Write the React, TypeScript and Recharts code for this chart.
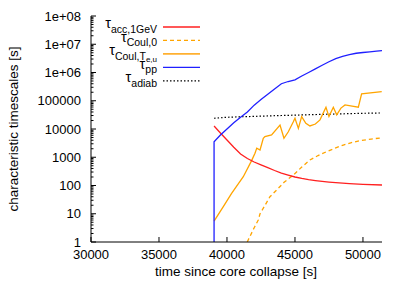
import { LineChart, Line, XAxis, YAxis, Legend } from 'recharts';

const W = 407;
const H = 285;
const FONT = '"Liberation Sans", Arial, Helvetica, sans-serif';

const X_TICKS = [30000, 35000, 40000, 45000, 50000];
const Y_MAJOR = [1, 10, 100, 1000, 10000, 100000, 1e6, 1e7, 1e8];
const Y_LABELS = ['1', '10', '100', '1000', '10000', '100000', '1e+06', '1e+07', '1e+08'];
const Y_MINOR_STEPS = [2, 3, 4, 5, 6, 7, 8, 9];

// tau_acc,1GeV
const tauAcc = [
  { t: 39050, v: 12800 }, { t: 39500, v: 7400 }, { t: 40000, v: 4100 }, { t: 40500, v: 2250 },
  { t: 41000, v: 1300 }, { t: 41500, v: 900 }, { t: 42000, v: 680 }, { t: 42500, v: 540 },
  { t: 43000, v: 430 }, { t: 43500, v: 340 }, { t: 44000, v: 275 }, { t: 44500, v: 235 },
  { t: 45000, v: 200 }, { t: 45500, v: 178 }, { t: 46000, v: 162 }, { t: 46500, v: 150 },
  { t: 47000, v: 140 }, { t: 47500, v: 132 }, { t: 48000, v: 126 }, { t: 49000, v: 117 },
  { t: 50000, v: 110 }, { t: 51400, v: 104 },
];

// tau_Coul,0
const tauCoul0 = [
  { t: 41490, v: 1 }, { t: 42000, v: 3.2 }, { t: 42300, v: 6 }, { t: 42430, v: 10 },
  { t: 42800, v: 20 }, { t: 43160, v: 40 }, { t: 43650, v: 69 }, { t: 44200, v: 130 },
  { t: 44880, v: 235 }, { t: 45500, v: 450 }, { t: 46100, v: 800 }, { t: 46700, v: 1150 },
  { t: 47330, v: 1580 }, { t: 48000, v: 2150 }, { t: 48550, v: 2700 }, { t: 49100, v: 3250 },
  { t: 49780, v: 3860 }, { t: 50600, v: 4400 }, { t: 51400, v: 4900 },
];

// tau_Coul,Te,u
const tauCoulTe = [
  { t: 39050, v: 5.5 }, { t: 39730, v: 18 }, { t: 40340, v: 53 }, { t: 41200, v: 205 },
  { t: 41810, v: 760 }, { t: 42060, v: 1380 }, { t: 42190, v: 2100 }, { t: 42430, v: 1800 },
  { t: 42670, v: 4700 }, { t: 42790, v: 5400 }, { t: 43280, v: 6200 }, { t: 43900, v: 13800 },
  { t: 44190, v: 4700 }, { t: 44510, v: 8000 }, { t: 44880, v: 18000 }, { t: 45000, v: 24000 },
  { t: 45250, v: 10500 }, { t: 45490, v: 27500 }, { t: 45800, v: 16000 }, { t: 46100, v: 12800 },
  { t: 46500, v: 15000 }, { t: 46840, v: 21000 }, { t: 47280, v: 59000 }, { t: 47500, v: 27500 },
  { t: 47820, v: 59000 }, { t: 48070, v: 31600 }, { t: 48380, v: 55000 }, { t: 48680, v: 71000 },
  { t: 49200, v: 65000 }, { t: 49660, v: 59000 }, { t: 49900, v: 174000 }, { t: 51380, v: 210000 },
];

// tau_pp
const tauPP = [
  { t: 39050, v: 1 }, { t: 39050, v: 3550 }, { t: 39500, v: 6000 }, { t: 40000, v: 10000 },
  { t: 40500, v: 16500 }, { t: 41000, v: 26000 }, { t: 41500, v: 40000 }, { t: 42000, v: 70000 },
  { t: 42500, v: 110000 }, { t: 43000, v: 170000 }, { t: 43500, v: 260000 }, { t: 44000, v: 400000 },
  { t: 44500, v: 480000 }, { t: 45000, v: 550000 }, { t: 45500, v: 750000 }, { t: 46000, v: 1.0e6 },
  { t: 46500, v: 1.35e6 }, { t: 47000, v: 1.8e6 }, { t: 47500, v: 2.4e6 }, { t: 48000, v: 3.1e6 },
  { t: 48500, v: 3.7e6 }, { t: 49000, v: 4.3e6 }, { t: 49500, v: 4.8e6 }, { t: 50000, v: 5.1e6 },
  { t: 50500, v: 5.4e6 }, { t: 51000, v: 5.7e6 }, { t: 51400, v: 5.9e6 },
];

// tau_adiab
const tauAdiab = [
  { t: 39050, v: 24000 }, { t: 40000, v: 26000 }, { t: 42000, v: 28000 }, { t: 44000, v: 30000 },
  { t: 46000, v: 32000 }, { t: 48000, v: 34000 }, { t: 50000, v: 36000 }, { t: 51400, v: 37000 },
];

const yTicks = Y_MAJOR.flatMap((d) => (d < 1e8 ? [d, ...Y_MINOR_STEPS.map((m) => d * m)] : [d]));

function BottomTick(props: any) {
  const { x, y, payload } = props;
  return (
    <g>
      <line x1={x} y1={y} x2={x} y2={y - 5} stroke="#000" />
      <text x={x} y={y + 16.5} textAnchor="middle" fontSize={13} fontFamily={FONT} fill="#000">
        {payload.value}
      </text>
    </g>
  );
}

function TopTick(props: any) {
  const { x, y } = props;
  return <line x1={x} y1={y} x2={x} y2={y + 5} stroke="#000" />;
}

function LeftTick(props: any) {
  const { x, y, payload } = props;
  const idx = Y_MAJOR.indexOf(payload.value);
  const major = idx >= 0;
  return (
    <g>
      <line x1={x} y1={y} x2={x + (major ? 5 : 2.5)} y2={y} stroke="#000" />
      {major && (
        <text x={x - 10} y={y + 4.5} textAnchor="end" fontSize={13} fontFamily={FONT} fill="#000">
          {Y_LABELS[idx]}
        </text>
      )}
    </g>
  );
}

function RightTick(props: any) {
  const { x, y, payload } = props;
  const major = Y_MAJOR.indexOf(payload.value) >= 0;
  return <line x1={x} y1={y} x2={x - (major ? 5 : 2.5)} y2={y} stroke="#000" />;
}

const legendItems = [
  { sub: 'acc,1GeV', subsub: '', color: '#ff2020', dash: undefined, width: 1.3 },
  { sub: 'Coul,0', subsub: '', color: '#ffa500', dash: '4 3', width: 1.3 },
  { sub: 'Coul,T', subsub: 'e,u', color: '#ffb030', dash: undefined, width: 1.8 },
  { sub: 'pp', subsub: '', color: '#2020ff', dash: undefined, width: 1.3 },
  { sub: 'adiab', subsub: '', color: '#000', dash: '1.5 2', width: 1.3 },
];

function LegendBox() {
  return (
    <svg width={W} height={100} style={{ display: 'block' }}>
      {legendItems.map((it, i) => {
        const ly = 27 + i * 13.45;
        return (
          <g key={i}>
            <text x={157} y={ly + 1.3} textAnchor="end" fontFamily={FONT} fill="#000" fontSize={14.5}>
              τ
              <tspan dy={4.7} fontSize={10.5}>{it.sub}</tspan>
              {it.subsub && <tspan dy={2.3} fontSize={8}>{it.subsub}</tspan>}
            </text>
            <line x1={163} y1={ly} x2={200} y2={ly} stroke={it.color} strokeWidth={it.width} strokeDasharray={it.dash} />
          </g>
        );
      })}
    </svg>
  );
}

export default function App() {
  return (
    <div style={{ position: 'absolute', left: 0, top: 0, width: W, height: H, background: '#fff' }}>
      <LineChart width={W} height={H} margin={{ top: 16, right: 25, bottom: 0, left: 0 }}>
        <XAxis
          dataKey="t"
          type="number"
          domain={[30000, 51400]}
          allowDataOverflow
          ticks={X_TICKS}
          interval={0}
          height={43}
          tickSize={0}
          tickMargin={0}
          tick={<BottomTick />}
          axisLine={{ stroke: '#000' }}
        />
        <XAxis
          xAxisId="top"
          orientation="top"
          type="number"
          domain={[30000, 51400]}
          allowDataOverflow
          ticks={X_TICKS}
          interval={0}
          height={0}
          tickSize={0}
          tickMargin={0}
          tick={<TopTick />}
          axisLine={{ stroke: '#000' }}
        />
        <YAxis
          dataKey="v"
          scale="log"
          domain={[1, 1e8]}
          allowDataOverflow
          ticks={yTicks}
          interval={0}
          width={91}
          tickSize={0}
          tickMargin={0}
          tick={<LeftTick />}
          axisLine={{ stroke: '#000' }}
          label={{
            value: 'characteristic timescales [s]',
            angle: -90,
            position: 'insideLeft',
            offset: 0,
            dx: 13,
            style: { textAnchor: 'middle', fontSize: 13.5, fontFamily: FONT, fill: '#000' },
          }}
        />
        <YAxis
          yAxisId="right"
          orientation="right"
          scale="log"
          domain={[1, 1e8]}
          allowDataOverflow
          ticks={yTicks}
          interval={0}
          width={0}
          tickSize={0}
          tickMargin={0}
          tick={<RightTick />}
          axisLine={{ stroke: '#000' }}
        />
        <Legend
          layout="vertical"
          align="center"
          verticalAlign="middle"
          content={() => <LegendBox />}
          wrapperStyle={{ position: 'absolute', left: 0, top: 0, width: W, height: 100 }}
        />
        <Line data={tauAdiab} dataKey="v" stroke="#000" strokeWidth={1.2} strokeDasharray="1.5 2" dot={false} isAnimationActive={false} type="linear" />
        <Line data={tauCoul0} dataKey="v" stroke="#ffa500" strokeWidth={1.3} strokeDasharray="4 3" dot={false} isAnimationActive={false} type="linear" />
        <Line data={tauCoulTe} dataKey="v" stroke="#ffa500" strokeWidth={1.3} dot={false} isAnimationActive={false} type="linear" />
        <Line data={tauAcc} dataKey="v" stroke="#ff2020" strokeWidth={1.3} dot={false} isAnimationActive={false} type="linear" />
        <Line data={tauPP} dataKey="v" stroke="#2020ff" strokeWidth={1.3} dot={false} isAnimationActive={false} type="linear" />
      </LineChart>
      <div
        style={{
          position: 'absolute',
          left: 236,
          top: 264,
          transform: 'translateX(-50%)',
          whiteSpace: 'nowrap',
          fontSize: 13.5,
          fontFamily: FONT,
          color: '#000',
        }}
      >
        time since core collapse [s]
      </div>
    </div>
  );
}
